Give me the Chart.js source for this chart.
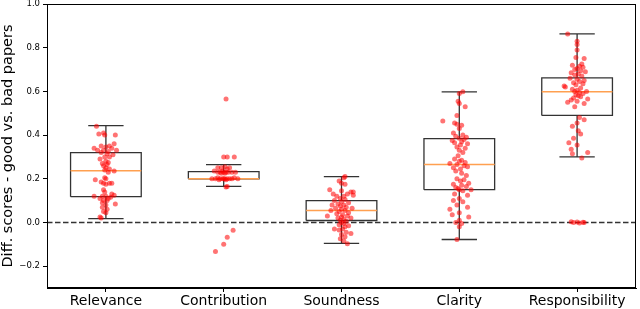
<!DOCTYPE html>
<html>
<head>
<meta charset="utf-8">
<script src="https://cdn.jsdelivr.net/npm/chart.js@4.4.1/dist/chart.umd.min.js"></script>
<style>
  body { margin: 0; background: #fff; }
  #chart { display: block; }
</style>
</head>
<body>
<canvas id="chart" width="640" height="309"></canvas>
<script>
const categories = ["Relevance", "Contribution", "Soundness", "Clarity", "Responsibility"];
const yTicks = [-0.2, 0, 0.2, 0.4, 0.6, 0.8, 1.0];

// box statistics
const whiskerLow = [0.018, 0.165, -0.096, -0.078, 0.30];
const q1 = [0.118, 0.20, 0.009, 0.15, 0.49];
const median = [0.237, 0.20, 0.055, 0.265, 0.598];
const q3 = [0.32, 0.233, 0.10, 0.384, 0.662];
const whiskerHigh = [0.443, 0.265, 0.21, 0.598, 0.863];

// jittered points: [offset from category, value]
const relevancePts = [
  [-0.08,0.44],[-0.06,0.405],[-0.02,0.41],[-0.01,0.40],[0.08,0.40],
  [0.07,0.36],[-0.04,0.35],[0.03,0.35],[-0.1,0.34],[0.0,0.345],[0.05,0.34],
  [-0.07,0.33],[-0.02,0.33],[0.02,0.325],[0.09,0.33],[-0.04,0.32],[0.01,0.315],[0.06,0.31],
  [-0.01,0.30],[0.03,0.30],[-0.05,0.29],[0.0,0.28],[0.02,0.275],[-0.03,0.27],[0.01,0.265],
  [-0.02,0.26],[0.0,0.25],[0.03,0.245],[-0.01,0.24],[0.07,0.235],[0.02,0.23],
  [-0.01,0.205],[0.0,0.20],[-0.09,0.195],[-0.04,0.185],[-0.02,0.18],[0.03,0.18],[0.05,0.18],[0.0,0.175],
  [-0.02,0.15],[-0.01,0.14],[0.05,0.13],[0.07,0.125],[-0.1,0.12],[-0.03,0.12],[0.0,0.12],[0.04,0.115],
  [-0.05,0.11],[0.02,0.11],[-0.02,0.10],[0.01,0.10],[-0.03,0.09],[0.08,0.085],[0.0,0.08],
  [-0.03,0.07],[0.01,0.06],[-0.02,0.05],[0.0,0.045],[-0.05,0.025],[-0.04,0.02]
];
const contributionPts = [
  [0.02,0.565],[0.0,0.30],[0.03,0.30],[0.09,0.30],
  [-0.05,0.25],[-0.02,0.25],[0.01,0.255],[0.05,0.25],[0.03,0.245],
  [-0.08,0.235],[-0.05,0.23],[-0.03,0.23],[-0.01,0.235],[0.0,0.23],[0.02,0.23],[0.04,0.23],[0.07,0.23],[0.1,0.23],[-0.02,0.225],[0.01,0.225],
  [-0.1,0.2],[-0.07,0.2],[-0.05,0.205],[-0.03,0.2],[-0.01,0.2],[0.0,0.2],[0.01,0.2],[0.03,0.2],[0.05,0.2],[0.07,0.2],[0.09,0.205],[0.12,0.2],[-0.04,0.195],[0.02,0.195],
  [0.03,0.165],[0.02,0.162],
  [0.08,-0.036],[0.03,-0.068],[0.0,-0.10],[-0.07,-0.133]
];
const soundnessPts = [
  [0.03,0.21],[0.02,0.205],[-0.02,0.19],[0.0,0.18],[0.03,0.175],
  [-0.1,0.15],[0.0,0.145],[0.08,0.14],[0.1,0.14],[-0.07,0.13],[0.05,0.13],[0.1,0.125],[-0.04,0.12],[0.02,0.12],[-0.01,0.11],[0.03,0.105],
  [-0.06,0.10],[0.0,0.095],[0.06,0.09],[-0.03,0.085],[-0.08,0.08],[0.02,0.08],[-0.01,0.075],[0.04,0.07],[0.09,0.065],[-0.05,0.065],
  [0.0,0.06],[-0.09,0.055],[0.03,0.055],[-0.02,0.05],[0.06,0.045],[-0.04,0.04],[0.01,0.035],[0.05,0.03],[-0.12,0.03],[0.0,0.025],
  [-0.03,0.02],[0.08,0.02],[0.02,0.015],[-0.01,0.01],[0.04,0.005],[0.0,0.0],[0.02,-0.005],[-0.02,-0.01],[0.06,-0.015],[0.03,-0.02],
  [-0.06,-0.03],[0.01,-0.03],[-0.02,-0.035],[0.04,-0.045],[0.08,-0.05],[0.0,-0.055],[0.03,-0.065],[-0.01,-0.075],[0.02,-0.085],[0.05,-0.097]
];
const clarityPts = [
  [0.03,0.598],[0.0,0.59],[-0.01,0.555],[0.0,0.545],[0.05,0.53],[-0.02,0.49],[-0.14,0.465],[-0.04,0.455],[-0.02,0.45],[0.02,0.445],[0.0,0.43],
  [-0.05,0.41],[0.03,0.40],[-0.03,0.395],[0.06,0.39],[0.0,0.385],[0.04,0.38],[-0.06,0.375],[0.02,0.37],[-0.04,0.365],[0.07,0.36],
  [0.01,0.355],[-0.02,0.345],[0.05,0.34],[0.0,0.33],[0.03,0.32],[-0.01,0.305],
  [-0.04,0.29],[0.02,0.285],[0.0,0.28],[0.05,0.275],[-0.08,0.27],[-0.02,0.265],[0.04,0.26],[0.07,0.255],[-0.05,0.25],[0.01,0.245],
  [-0.03,0.235],[0.02,0.225],[0.06,0.215],
  [-0.02,0.20],[0.04,0.195],[0.01,0.19],[0.08,0.18],[-0.05,0.175],[0.02,0.17],[0.06,0.165],[-0.03,0.16],[-0.01,0.155],[0.1,0.15],[0.0,0.15],[0.03,0.145],
  [-0.04,0.13],[0.07,0.125],[0.0,0.11],[-0.05,0.10],[0.03,0.095],[-0.02,0.08],[0.07,0.07],[-0.08,0.06],[0.0,0.045],[-0.06,0.035],
  [0.08,0.025],[0.0,0.01],[-0.03,0.0],[0.02,-0.005],[0.0,-0.02],[-0.02,-0.078]
];
const responsibilityPts = [
  [-0.08,0.863],[0.0,0.83],[0.0,0.815],[0.0,0.79],[-0.01,0.755],[0.06,0.75],[0.04,0.725],[-0.04,0.72],[0.02,0.715],[0.05,0.71],
  [0.0,0.705],[-0.02,0.70],[0.03,0.695],[0.07,0.69],[-0.05,0.685],[0.01,0.68],[-0.02,0.675],[0.04,0.67],[-0.06,0.66],[0.0,0.655],
  [0.06,0.65],[0.02,0.645],[-0.03,0.64],[0.05,0.635],[-0.01,0.63],
  [-0.11,0.625],[-0.1,0.62],[0.03,0.615],[-0.04,0.61],[0.0,0.605],[0.08,0.60],[-0.02,0.60],[0.02,0.595],[0.05,0.59],[-0.01,0.585],
  [0.01,0.58],[0.03,0.575],[-0.03,0.57],[0.09,0.565],[-0.05,0.56],[0.0,0.555],[-0.08,0.55],[0.06,0.545],[-0.02,0.53],
  [0.02,0.48],[0.06,0.47],[0.0,0.455],[-0.04,0.44],[0.01,0.42],[0.03,0.405],[-0.03,0.385],[-0.07,0.365],[0.0,0.355],
  [-0.05,0.335],[-0.04,0.315],[0.09,0.32],[0.04,0.295],
  [-0.05,0.003],[-0.03,0.0],[0.0,0.002],[0.02,-0.002],[0.05,0.001],[0.06,0.0]
];
const pointSets = [relevancePts, contributionPts, soundnessPts, clarityPts, responsibilityPts];

const BOX_HALF = 0.3;
const CAP_HALF = 0.15;
const FONT = "'DejaVu Sans', sans-serif";

function gap(x) {
  return { x: x, y: null };
}

function buildPoints() {
  const out = [];
  pointSets.forEach((pts, i) => {
    pts.forEach(([dx, y]) => out.push({ x: i + 1 + dx, y: y }));
  });
  return out;
}

function buildBoxes() {
  const out = [];
  categories.forEach((_, i) => {
    const c = i + 1;
    out.push({ x: c - BOX_HALF, y: q1[i] }, { x: c + BOX_HALF, y: q1[i] },
      { x: c + BOX_HALF, y: q3[i] }, { x: c - BOX_HALF, y: q3[i] },
      { x: c - BOX_HALF, y: q1[i] }, gap(c));
  });
  return out;
}

function buildWhiskers() {
  const out = [];
  categories.forEach((_, i) => {
    const c = i + 1;
    out.push({ x: c, y: whiskerLow[i] }, { x: c, y: q1[i] }, gap(c));
    out.push({ x: c, y: q3[i] }, { x: c, y: whiskerHigh[i] }, gap(c));
    out.push({ x: c - CAP_HALF, y: whiskerLow[i] }, { x: c + CAP_HALF, y: whiskerLow[i] }, gap(c));
    out.push({ x: c - CAP_HALF, y: whiskerHigh[i] }, { x: c + CAP_HALF, y: whiskerHigh[i] }, gap(c));
  });
  return out;
}

function buildMedians() {
  const out = [];
  categories.forEach((_, i) => {
    const c = i + 1;
    out.push({ x: c - BOX_HALF, y: median[i] }, { x: c + BOX_HALF, y: median[i] }, gap(c));
  });
  return out;
}

const lineStyle = { showLine: true, pointRadius: 0, fill: false, spanGaps: false };

const framePlugin = {
  id: "frame",
  afterDraw(chart) {
    const { ctx, chartArea: a } = chart;
    ctx.save();
    ctx.strokeStyle = "#000";
    ctx.lineWidth = 1;
    ctx.strokeRect(Math.round(a.left) + 0.5, Math.round(a.top) + 0.5,
      Math.round(a.right - a.left) - 1, Math.round(a.bottom - a.top) - 1);
    ctx.restore();
  },
};

function noPad(axis) {
  axis.paddingTop = 0;
  axis.paddingBottom = 0;
  axis.paddingLeft = 0;
  axis.paddingRight = 0;
}

function mount() {
  const ctx = document.getElementById("chart").getContext("2d");
  new Chart(ctx, {
    type: "scatter",
    data: {
      datasets: [
        {
          data: buildPoints(),
          pointRadius: 2.5,
          pointBorderWidth: 0,
          pointBackgroundColor: "rgba(255, 0, 0, 0.55)",
          pointBorderColor: "rgba(0,0,0,0)",
        },
        { ...lineStyle, data: buildMedians(), borderColor: "#ffa050", borderWidth: 1.5 },
        { ...lineStyle, data: buildBoxes(), borderColor: "#333", borderWidth: 1.3 },
        { ...lineStyle, data: buildWhiskers(), borderColor: "#333", borderWidth: 1.3 },
        {
          ...lineStyle,
          data: [{ x: 0.5, y: 0 }, { x: 5.5, y: 0 }],
          borderColor: "#333",
          borderWidth: 1.5,
          borderDash: [5.5, 2.5],
        },
      ],
    },
    options: {
      responsive: false,
      devicePixelRatio: 1,
      animation: false,
      layout: { padding: { top: 2, right: 1, left: 0, bottom: 0 } },
      plugins: {
        legend: { display: false },
        tooltip: { enabled: false },
      },
      scales: {
        x: {
          type: "linear",
          min: 0.5,
          max: 5.5,
          afterBuildTicks: (axis) => {
            axis.ticks = categories.map((_, i) => ({ value: i + 1 }));
          },
          afterFit: (axis) => { axis.height = 21; noPad(axis); },
          ticks: {
            callback: (v) => categories[v - 1],
            color: "#000",
            padding: 1,
            maxRotation: 0,
            font: { family: FONT, size: 14 },
          },
          grid: { display: true, drawOnChartArea: false, drawTicks: true, tickLength: 4, color: "#000" },
          border: { display: true, color: "#000", width: 1 },
        },
        y: {
          min: -0.3,
          max: 1.0,
          afterBuildTicks: (axis) => {
            axis.ticks = yTicks.map((v) => ({ value: v }));
          },
          afterFit: (axis) => { axis.width = 47; noPad(axis); },
          ticks: {
            callback: (v) => (v < 0 ? "\u2212" + Math.abs(v).toFixed(1) : v.toFixed(1)),
            color: "#000",
            padding: 3,
            font: { family: FONT, size: 8.5 },
          },
          grid: { display: true, drawOnChartArea: false, drawTicks: true, tickLength: 4, color: "#000" },
          border: { display: true, color: "#000", width: 1 },
          title: {
            display: true,
            text: "Diff. scores - good vs. bad papers",
            color: "#000",
            padding: { top: 0, bottom: 0 },
            font: { family: FONT, size: 14.5 },
          },
        },
      },
    },
    plugins: [framePlugin],
  });
}

document.addEventListener("DOMContentLoaded", () => mount());
</script>
</body>
</html>
